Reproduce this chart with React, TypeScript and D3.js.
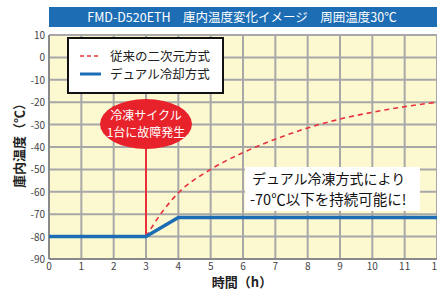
import React from 'react';
import { scaleLinear, line, curveMonotoneX, range } from 'd3';

const title = 'FMD-D520ETH　庫内温度変化イメージ　周囲温度30℃';
const xTicks = range(0, 13);
const yTicks = range(-90, 11, 10);

const legendLabels = ['従来の二次元方式', 'デュアル冷却方式'];
const failureLabel = ['冷凍サイクル', '1台に故障発生'];
const noteLabel = ['デュアル冷凍方式により', '-70℃以下を持続可能に!'];

// 従来の二次元方式 (dashed)
const oldHours = [3, 3.5, 4, 5, 6, 7, 8, 9, 10, 11, 12];
const oldTemps = [-80, -69, -60.5, -50, -42.5, -36.5, -31.5, -27.5, -24.5, -22, -20];

// デュアル冷却方式
const dualHours = [0, 3, 4, 12];
const dualTemps = [-80, -80, -71.5, -71.5];

const failureHour = 3;
const failureTemp = -80;

const font = '"Noto Sans CJK JP", "Noto Sans", sans-serif';

export default function App() {
  const W = 437, H = 291;
  const x = scaleLinear().domain([0, 12]).range([49, 437]);
  const y = scaleLinear().domain([-90, 10]).range([259, 35]);

  const mk = line<[number, number]>().x(d => x(d[0])).y(d => y(d[1]));
  const oldPath = mk.curve(curveMonotoneX)(oldHours.map((h, i) => [h, oldTemps[i]]));
  const dualPath = line<[number, number]>().x(d => x(d[0])).y(d => y(d[1]))(
    dualHours.map((h, i) => [h, dualTemps[i]])
  );

  const fx = x(failureHour);
  const ellCy = 124;

  return (
    <svg width={W} height={H} style={{ position: 'absolute', left: 0, top: 0, fontFamily: font }}>
      <rect x={0} y={0} width={W} height={H} fill="#fff" />
      {/* title bar */}
      <rect x={49} y={7} width={W - 49} height={20} fill="#1d6db4" />
      <text x={242} y={22} textAnchor="middle" fill="#fff" fontSize={12.5}>{title}</text>

      {/* plot background */}
      <rect x={x(0)} y={y(10)} width={x(12) - x(0)} height={y(-90) - y(10)} fill="#fcf8d0" />
      {xTicks.map(t => (
        <line key={'gx' + t} x1={x(t)} x2={x(t)} y1={y(10)} y2={y(-90)} stroke="#a8a8a8" strokeWidth={2} />
      ))}
      {yTicks.map(t => (
        <line key={'gy' + t} x1={x(0)} x2={x(12)} y1={y(t)} y2={y(t)} stroke="#a8a8a8" strokeWidth={2} />
      ))}
      <line x1={x(0)} x2={x(0)} y1={y(10)} y2={y(-90)} stroke="#8a8a8a" strokeWidth={2} />
      <line x1={x(0)} x2={x(12)} y1={y(-90)} y2={y(-90)} stroke="#8a8a8a" strokeWidth={2} />

      {/* tick labels */}
      {yTicks.map(t => (
        <text key={'ly' + t} x={45} y={y(t) + 4} textAnchor="end" fontSize={10} fill="#444">{t}</text>
      ))}
      {xTicks.map(t => (
        <text key={'lx' + t} x={x(t)} y={270} textAnchor="middle" fontSize={10} fill="#444">{t}</text>
      ))}

      {/* axis titles */}
      <text transform={`translate(24,${y(-38)}) rotate(-90)`} textAnchor="middle" fontSize={13} fontWeight="bold" fill="#222">
        庫内温度（℃）
      </text>
      <text x={242} y={287} textAnchor="middle" fontSize={13} fontWeight="bold" fill="#222">時間（h）</text>

      {/* series */}
      <path d={oldPath || ''} fill="none" stroke="#e8303a" strokeWidth={1.6} strokeDasharray="5,4" />
      <line x1={fx} x2={fx} y1={ellCy + 24} y2={y(failureTemp)} stroke="#e8303a" strokeWidth={2} />
      <path d={dualPath || ''} fill="none" stroke="#1d6db4" strokeWidth={3.5} />

      {/* failure callout */}
      <ellipse cx={fx} cy={ellCy} rx={46} ry={25} fill="#e8222b" />
      <text x={fx} y={ellCy - 4} textAnchor="middle" fontSize={12} fill="#fff">{failureLabel[0]}</text>
      <text x={fx} y={ellCy + 13} textAnchor="middle" fontSize={12} fill="#fff">{failureLabel[1]}</text>

      {/* legend */}
      <rect x={68} y={38} width={155} height={55} fill="#fff" stroke="#111" strokeWidth={2} />
      <line x1={80} x2={101} y1={56} y2={56} stroke="#e8303a" strokeWidth={1.6} strokeDasharray="4,3" />
      <text x={110} y={61} fontSize={12.5} fill="#222">{legendLabels[0]}</text>
      <line x1={80} x2={101} y1={74} y2={74} stroke="#1d6db4" strokeWidth={3} />
      <text x={110} y={79} fontSize={12.5} fill="#222">{legendLabels[1]}</text>

      {/* note */}
      <rect x={245} y={167} width={175} height={44} fill="#fff" />
      <text x={252} y={184} fontSize={14} fill="#111">{noteLabel[0]}</text>
      <text x={250} y={205} fontSize={14.5} fill="#111">{noteLabel[1]}</text>
    </svg>
  );
}
